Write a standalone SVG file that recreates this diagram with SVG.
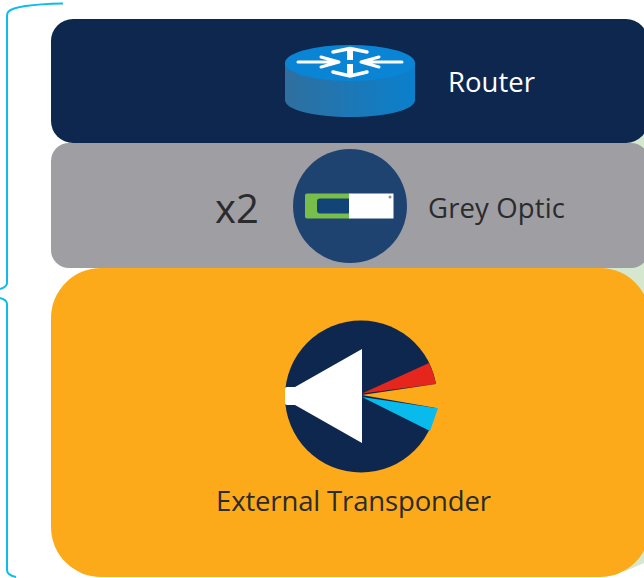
<svg xmlns="http://www.w3.org/2000/svg" width="644" height="578" viewBox="0 0 644 578">
  <defs>
    <linearGradient id="body" x1="0" y1="0" x2="1" y2="0">
      <stop offset="0" stop-color="#2f6f9f"/>
      <stop offset="1" stop-color="#0a80cc"/>
    </linearGradient>
  </defs>
  <style>
    text { font-family: "Open Sans", "Noto Sans", sans-serif; font-size: 27.5px; }
    .brace { fill: none; stroke: #0fbbec; stroke-width: 2; }
    .arr { fill: none; stroke: #ffffff; stroke-width: 3; stroke-linecap: round; stroke-linejoin: round; }
    .dark { fill: #2b2b2e; }
  </style>
  <rect width="644" height="578" fill="#ffffff"/>
  <path d="M590 120 H644 V563 L626 571 H590 Z" fill="#d5e8cf"/>

  <g id="connectors">
    <path class="brace" d="M63 3.500 C40 4 14 6 8.500 11.500 Q7 13 7 16 L7 283 Q7 287 0 289"/>
    <path class="brace" d="M0 298 Q7 300 7 304 L7 570 Q7 575 16 577"/>
  </g>

  <g id="router">
    <rect x="51" y="19" width="597" height="124" rx="22" fill="#0e274e"/>
    <path d="M285 63 V100 C285 110 314 117 350 117 C386 117 415 110 415 100 V63 Z" fill="url(#body)"/>
    <ellipse cx="350" cy="63" rx="65" ry="18" fill="#0a85d5"/>
    <path class="arr" d="M298 62 H338 M321 57 L339 62 L321 67"/>
    <path class="arr" d="M402 62 H361 M379 57 L361 62 L379 67"/>
    <path class="arr" d="M333 52 L350 48.500 L367 52" style="stroke-width:3.500"/>
    <path class="arr" d="M333 72 L350 76 L367 72" style="stroke-width:3.500"/>
    <path d="M347 49 H353 V60 H347 Z M347 64 H353 V75 H347 Z" fill="#ffffff"/>
    <text x="448" y="92" fill="#ffffff" textLength="87" lengthAdjust="spacing">Router</text>
  </g>

  <g id="grey-optic">
    <rect x="51" y="143" width="598" height="125" rx="18" fill="#9f9ea3"/>
    <text class="dark" x="215" y="223" style="font-size:40px">x2</text>
    <circle cx="350" cy="206" r="57" fill="#1f4371"/>
    <rect x="305" y="193.500" width="46" height="25" rx="2" fill="#78be4b"/>
    <rect x="317" y="198.500" width="34" height="15" rx="3" fill="#134478"/>
    <rect x="349" y="193.500" width="44.500" height="25" fill="#ffffff"/>
    <circle cx="390" cy="197" r="1.500" fill="#8a8f98"/>
    <text class="dark" x="428" y="218" textLength="137" lengthAdjust="spacing">Grey Optic</text>
  </g>

  <g id="external-transponder">
    <rect x="51" y="268" width="599" height="309" rx="50" fill="#fcaa19"/>
    <circle cx="361" cy="396.500" r="76" fill="#0e274e"/>
    <path d="M362 393.500 L429 363 A76 76 0 0 1 436 384 Z" fill="#e5261c"/>
    <path d="M362 395 L436 384 L439 384 V408 L436 408 Z" fill="#fcaa19"/>
    <path d="M362 397 L436 408 L438 408 L430 431 Z" fill="#08bbec"/>
    <path d="M362 349 V443 L295 405 H287 Q285 405 285 403 V389 Q285 387 287 387 H295 Z" fill="#ffffff"/>
    <text class="dark" x="216" y="511" textLength="275" lengthAdjust="spacing">External Transponder</text>
  </g>
</svg>
